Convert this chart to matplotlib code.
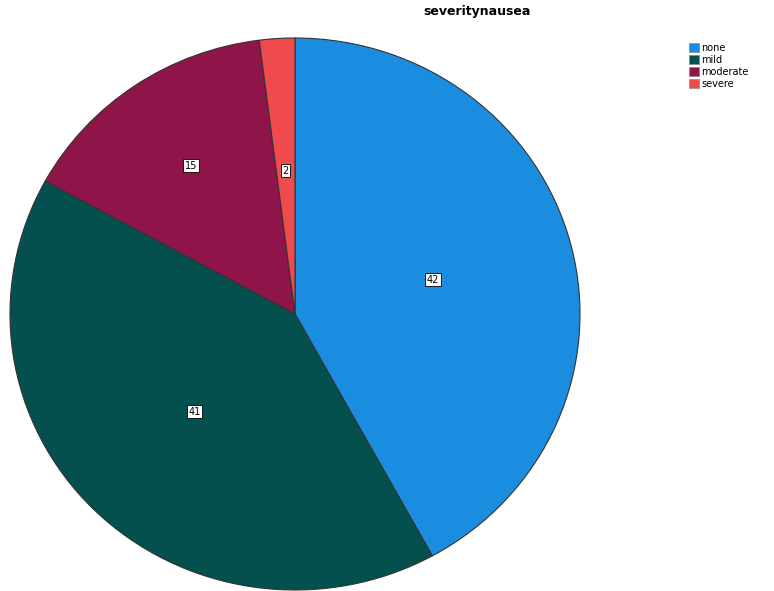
import matplotlib
matplotlib.use("Agg")
import matplotlib.pyplot as plt
from matplotlib.patches import Patch
import numpy as np

categories = ["none", "mild", "moderate", "severe"]
values = [42, 41, 15, 2]
colors = ["#1b8de0", "#03504f", "#8f1449", "#ef4a4e"]
title = "severitynausea"

fig = plt.figure(figsize=(7.74, 5.91), dpi=100)
ax = fig.add_axes([10/774, 1-590/591, 570/774, 552/591])
wedges, texts = ax.pie(values, colors=colors, startangle=90, counterclock=False,
                       labels=[str(v) for v in values], labeldistance=0.5,
                       wedgeprops=dict(edgecolor="#333333", linewidth=0.8),
                       textprops=dict(fontsize=7, color="black",
                                      bbox=dict(boxstyle="square,pad=0.15", fc="white", ec="black", lw=0.6)))
label_r = [0.5, 0.5, 0.65, 0.52]
for w, t, r in zip(wedges, texts, label_r):
    ang = np.deg2rad((w.theta1 + w.theta2) / 2)
    t.set_position((r * np.cos(ang), r * np.sin(ang)))
    t.set_ha("center")
    t.set_va("center")
ax.set_aspect("auto")
ax.set_xlim(-1.0, 1.0)
ax.set_ylim(-1.0, 1.0)

fig.text(477/774, 1-12/591, title, ha="center", va="center", fontsize=9, fontweight="bold")

handles = [Patch(facecolor=c, edgecolor="#888888", linewidth=0.5) for c in colors]
fig.legend(handles, categories, loc="upper left", bbox_to_anchor=(682/774, 1-36/591),
           frameon=False, fontsize=7, handlelength=1.0, handleheight=1.0,
           handletextpad=0.3, labelspacing=0.2, borderpad=0.2)

fig.savefig("out.png", dpi=100)
